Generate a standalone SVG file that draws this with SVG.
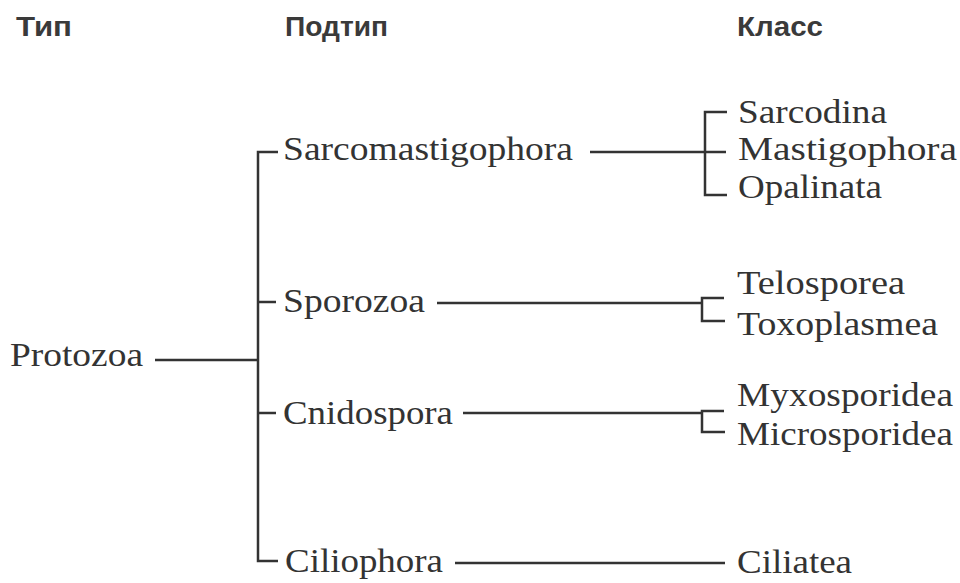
<svg xmlns="http://www.w3.org/2000/svg" width="960" height="583" viewBox="0 0 960 583">
<style>
.h{font-family:"Liberation Sans",Arial,sans-serif;font-weight:bold;font-size:28px;fill:#3a3a3a}
.t{font-family:"Liberation Serif","Times New Roman",serif;font-size:34px;fill:#333}
.c{fill:none;stroke:#333;stroke-width:2.5}
</style>
<rect width="960" height="583" fill="#fff"/>
<g id="headers">
<text class="h" x="16" y="36" textLength="56" lengthAdjust="spacingAndGlyphs">Тип</text>
<text class="h" x="285" y="36" textLength="103" lengthAdjust="spacingAndGlyphs">Подтип</text>
<text class="h" x="737" y="36" textLength="86" lengthAdjust="spacingAndGlyphs">Класс</text>
</g>
<g id="connectors">
<line class="c" x1="155" y1="360" x2="258" y2="360"/>
<polyline class="c" points="278,152 258,152 258,561 278,561"/>
<line class="c" x1="258" y1="302" x2="276" y2="302"/>
<line class="c" x1="258" y1="413" x2="276" y2="413"/>
<line class="c" x1="590" y1="152" x2="726" y2="152"/>
<polyline class="c" points="727,112 705,112 705,195 727,195"/>
<line class="c" x1="437" y1="303" x2="702" y2="303"/>
<polyline class="c" points="724,298 702,298 702,321 725,321"/>
<line class="c" x1="463" y1="413" x2="702" y2="413"/>
<polyline class="c" points="724,411 702,411 702,432 725,432"/>
<line class="c" x1="455" y1="563" x2="725" y2="563"/>
</g>
<g id="protozoa"><text class="t" x="10" y="366" textLength="133" lengthAdjust="spacingAndGlyphs">Protozoa</text></g>
<g id="sarcomastigophora"><text class="t" x="283" y="160" textLength="290" lengthAdjust="spacingAndGlyphs">Sarcomastigophora</text></g>
<g id="sporozoa"><text class="t" x="283" y="312" textLength="142" lengthAdjust="spacingAndGlyphs">Sporozoa</text></g>
<g id="cnidospora"><text class="t" x="283" y="424" textLength="170" lengthAdjust="spacingAndGlyphs">Cnidospora</text></g>
<g id="ciliophora"><text class="t" x="285" y="572" textLength="158" lengthAdjust="spacingAndGlyphs">Ciliophora</text></g>
<g id="sarcodina"><text class="t" x="738" y="123" textLength="149" lengthAdjust="spacingAndGlyphs">Sarcodina</text></g>
<g id="mastigophora"><text class="t" x="738" y="160" textLength="219" lengthAdjust="spacingAndGlyphs">Mastigophora</text></g>
<g id="opalinata"><text class="t" x="738" y="198" textLength="144" lengthAdjust="spacingAndGlyphs">Opalinata</text></g>
<g id="telosporea"><text class="t" x="737" y="294" textLength="168" lengthAdjust="spacingAndGlyphs">Telosporea</text></g>
<g id="toxoplasmea"><text class="t" x="737" y="335" textLength="201" lengthAdjust="spacingAndGlyphs">Toxoplasmea</text></g>
<g id="myxosporidea"><text class="t" x="737" y="406" textLength="216" lengthAdjust="spacingAndGlyphs">Myxosporidea</text></g>
<g id="microsporidea"><text class="t" x="737" y="445" textLength="216" lengthAdjust="spacingAndGlyphs">Microsporidea</text></g>
<g id="ciliatea"><text class="t" x="737" y="573" textLength="115" lengthAdjust="spacingAndGlyphs">Ciliatea</text></g>
</svg>
